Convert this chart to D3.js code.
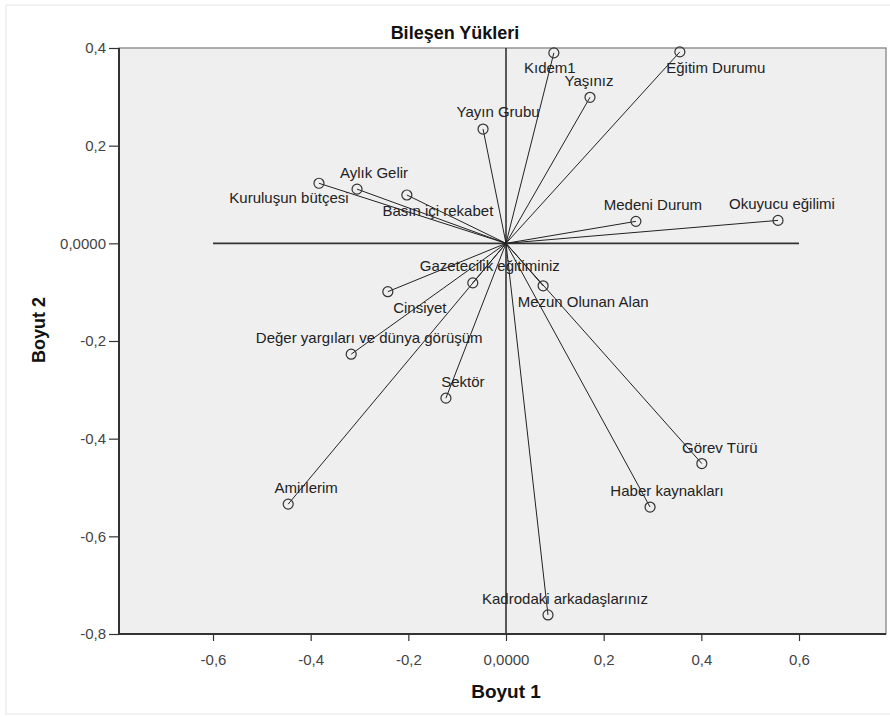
<!DOCTYPE html>
<html>
<head>
<meta charset="utf-8">
<script src="https://cdn.jsdelivr.net/npm/d3@7"></script>
<style>
  body { margin: 0; background: #fff; }
  svg text { font-family: "Liberation Sans", Arial, sans-serif; }
</style>
</head>
<body>
<div id="chart"></div>
<script>
/**
 * DATA
 * */
const names = [
  "Kıdem1", "Eğitim Durumu", "Yaşınız", "Yayın Grubu", "Aylık Gelir",
  "Kuruluşun bütçesi", "Basın içi rekabet", "Medeni Durum", "Okuyucu eğilimi",
  "Gazetecilik eğitiminiz", "Cinsiyet", "Mezun Olunan Alan",
  "Değer yargıları ve dünya görüşüm", "Sektör", "Amirlerim",
  "Haber kaynakları", "Görev Türü", "Kadrodaki arkadaşlarınız"
];
const dim1 = [0.098, 0.356, 0.172, -0.047, -0.305, -0.383, -0.203, 0.266, 0.557,
  -0.068, -0.242, 0.076, -0.317, -0.123, -0.446, 0.295, 0.401, 0.086];
const dim2 = [0.390, 0.392, 0.299, 0.234, 0.111, 0.123, 0.099, 0.045, 0.047,
  -0.081, -0.099, -0.087, -0.227, -0.317, -0.534, -0.540, -0.451, -0.761];
const xTicks = [-0.6, -0.4, -0.2, 0, 0.2, 0.4, 0.6];
const yTicks = [0.4, 0.2, 0, -0.2, -0.4, -0.6, -0.8];

// label placement (offset from the point, px) - layout only
const labelDx = [-4, 36, -1, 15, 17, -30, 31, 17, 4, 17, 32, 40, 18, 17, 18, 17, 18, 17];
const labelDy = [20, 21, -11, -12, -11, 20, 21, -11, -11, -12, 21, 21, -11, -11, -11, -11, -11, -11];

/**
 * CONSTANTS
 * */
const width = 890, height = 717;
const plot = { left: 119, right: 886, top: 48, bottom: 634 };

const fmt = v => v === 0 ? "0,0000" : String(+v.toFixed(1)).replace(".", ",");

const svg = d3.select("#chart").append("svg")
  .attr("width", width)
  .attr("height", height);

// faint outer frame
svg.append("rect")
  .attr("x", 6).attr("y", 5)
  .attr("width", width).attr("height", height - 8)
  .attr("fill", "none")
  .attr("stroke", "#e6e6e6");

const x = d3.scaleLinear().domain([-0.6, 0.6]).range([213, 799]);
const y = d3.scaleLinear().domain([-0.8, 0.4]).range([plot.bottom, plot.top]);

// plot background
svg.append("rect")
  .attr("x", plot.left).attr("y", plot.top)
  .attr("width", plot.right - plot.left)
  .attr("height", plot.bottom - plot.top)
  .attr("fill", "#efefef")
  .attr("stroke", "#7a7a7a")
  .attr("stroke-width", 1.2);

// axes
const yAxis = svg.append("g")
  .attr("transform", `translate(${plot.left},0)`)
  .call(d3.axisLeft(y).tickValues(yTicks).tickFormat(fmt).tickSize(10).tickPadding(3));
const xAxis = svg.append("g")
  .attr("transform", `translate(0,${plot.bottom})`)
  .call(d3.axisBottom(x).tickValues(xTicks).tickFormat(fmt).tickSize(7).tickPadding(13));

[xAxis, yAxis].forEach(g => {
  g.select(".domain").remove();
  g.selectAll("line").attr("stroke", "#333").attr("stroke-width", 1.2);
  g.selectAll("text").attr("fill", "#444").style("font-size", "15px");
});

svg.append("line")
  .attr("x1", plot.left).attr("x2", plot.left)
  .attr("y1", plot.top).attr("y2", plot.bottom)
  .attr("stroke", "#333").attr("stroke-width", 2);
svg.append("line")
  .attr("x1", plot.left).attr("x2", plot.right)
  .attr("y1", plot.bottom).attr("y2", plot.bottom)
  .attr("stroke", "#333").attr("stroke-width", 2);

// zero reference lines
svg.append("line")
  .attr("x1", x(-0.6)).attr("x2", x(0.6))
  .attr("y1", y(0)).attr("y2", y(0))
  .attr("stroke", "#333").attr("stroke-width", 1.6);
svg.append("line")
  .attr("x1", x(0)).attr("x2", x(0))
  .attr("y1", plot.top).attr("y2", plot.bottom)
  .attr("stroke", "#333").attr("stroke-width", 1.6);

// titles
svg.append("text")
  .attr("x", 455).attr("y", 39)
  .attr("text-anchor", "middle")
  .style("font-size", "18px").style("font-weight", "bold")
  .attr("fill", "#111")
  .text("Bileşen Yükleri");
svg.append("text")
  .attr("x", x(0)).attr("y", 698)
  .attr("text-anchor", "middle")
  .style("font-size", "19px").style("font-weight", "bold")
  .attr("fill", "#111")
  .text("Boyut 1");
svg.append("text")
  .attr("transform", "translate(45,330) rotate(-90)")
  .attr("text-anchor", "middle")
  .style("font-size", "18px").style("font-weight", "bold")
  .attr("fill", "#111")
  .text("Boyut 2");

// loadings
const data = names.map((n, i) => ({ name: n, x: dim1[i], y: dim2[i], dx: labelDx[i], dy: labelDy[i] }));

const g = svg.append("g");
g.selectAll("line.vec")
  .data(data)
  .join("line")
  .attr("class", "vec")
  .attr("x1", x(0)).attr("y1", y(0))
  .attr("x2", d => x(d.x)).attr("y2", d => y(d.y))
  .attr("stroke", "#222").attr("stroke-width", 1);

g.selectAll("text.lab")
  .data(data)
  .join("text")
  .attr("class", "lab")
  .attr("x", d => x(d.x) + d.dx)
  .attr("y", d => y(d.y) + d.dy)
  .attr("text-anchor", "middle")
  .style("font-size", "15px")
  .attr("fill", "#222")
  .text(d => d.name);

g.selectAll("circle")
  .data(data)
  .join("circle")
  .attr("cx", d => x(d.x)).attr("cy", d => y(d.y))
  .attr("r", 5)
  .attr("fill", "none")
  .attr("stroke", "#333").attr("stroke-width", 1.2);
</script>
</body>
</html>
